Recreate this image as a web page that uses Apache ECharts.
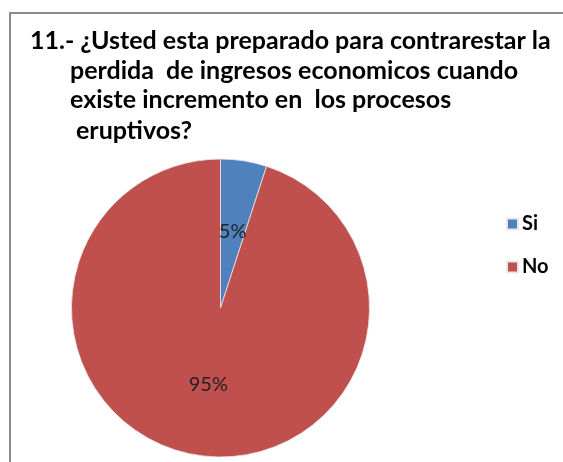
<!DOCTYPE html>
<html>
<head>
<meta charset="utf-8">
<script src="https://cdn.jsdelivr.net/npm/echarts@6/dist/echarts.min.js"></script>
<style>
  html, body { margin: 0; padding: 0; background: #fff; }
  #chart { width: 563px; height: 462px; }
</style>
</head>
<body>
<div id="chart"></div>
<script>
// datos de la pregunta 11
const titleLines = [
  '11.- ¿Usted esta preparado para contrarestar la',
  'perdida  de ingresos economicos cuando',
  'existe incremento en  los procesos',
  'eruptivos?'
];
const categories = ['Si', 'No'];
const values = [5, 95];
const colors = ['#4F81BD', '#C0504D'];

const titleFont = { fontFamily: 'Lato', fontWeight: 'bold', fontSize: 25, color: '#000' };
const titlePos = [[30, 28], [70, 58], [70, 87], [76, 118]];

const chart = echarts.init(document.getElementById('chart'));

chart.setOption({
  animation: false,
  title: titleLines.map((t, i) => ({
    text: t,
    left: titlePos[i][0],
    top: titlePos[i][1],
    padding: 0,
    textStyle: titleFont
  })),
  legend: {
    orient: 'vertical',
    left: 501,
    top: 209,
    itemWidth: 11,
    itemHeight: 11,
    itemGap: 23,
    icon: 'rect',
    data: categories,
    textStyle: { fontFamily: 'Lato', fontWeight: 'bold', fontSize: 20, color: '#000', padding: [0, 0, 0, -1] }
  },
  graphic: [{
    type: 'rect',
    shape: { x: 10, y: 13, width: 600, height: 500 },
    style: { fill: 'none', stroke: '#8c8c8c', lineWidth: 2 },
    silent: true
  }],
  series: [{
    type: 'pie',
    center: [220.5, 308],
    radius: 149,
    startAngle: 90,
    clockwise: true,
    color: colors,
    itemStyle: { borderColor: '#e8e8e8', borderWidth: 0.8 },
    label: {
      position: 'inside',
      formatter: '{d}%',
      fontFamily: 'Lato',
      fontSize: 20,
      color: '#222'
    },
    labelLine: { show: false },
    data: categories.map((c, i) => ({ name: c, value: values[i] }))
  }]
});
</script>
</body>
</html>
